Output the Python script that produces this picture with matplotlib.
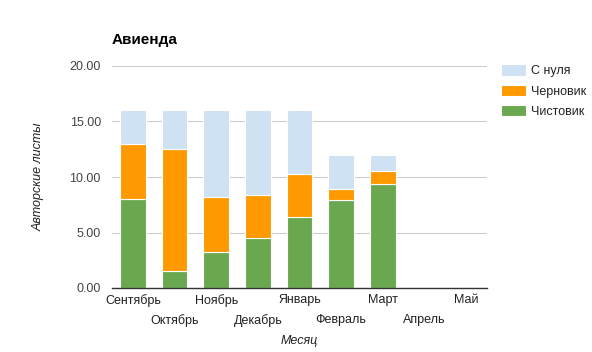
import numpy as np
import matplotlib.pyplot as plt

months = ['Сентябрь', 'Октябрь', 'Ноябрь', 'Декабрь', 'Январь',
          'Февраль', 'Март', 'Апрель', 'Май']
clean = [8.0, 1.5, 3.2, 4.5, 6.4, 7.9, 9.4, 0, 0]      # Чистовик
draft = [5.0, 11.0, 5.0, 3.9, 3.9, 1.0, 1.1, 0, 0]      # Черновик
scratch = [3.0, 3.5, 7.8, 7.6, 5.7, 3.1, 1.5, 0, 0]    # С нуля

plt.rcParams['font.family'] = ['Arial', 'Liberation Sans', 'DejaVu Sans']

fig = plt.figure(figsize=(5.92, 3.52), dpi=100)
ax = fig.add_axes([112 / 592, 1 - 288 / 352, 375 / 592, 222 / 352])

x = np.arange(len(months))
w = 0.62
clean = np.array(clean)
draft = np.array(draft)
scratch = np.array(scratch)
ax.bar(x, clean, w, color='#6aa84f', edgecolor='white', linewidth=0.8, label='Чистовик', zorder=2)
ax.bar(x, draft, w, bottom=clean, color='#ff9900', edgecolor='white', linewidth=0.8, label='Черновик', zorder=2)
ax.bar(x, scratch, w, bottom=clean + draft, color='#cfe2f3', edgecolor='white', linewidth=0.8, label='С нуля', zorder=2)

ax.set_xlim(-0.5, len(months) - 0.5)
ax.set_ylim(0, 20)
ax.set_yticks([0, 5, 10, 15, 20])
ax.set_yticklabels(['%.2f' % v for v in [0, 5, 10, 15, 20]], fontsize=9, color='#444444')
ax.grid(axis='y', color='#cccccc', linewidth=0.8, zorder=0)
ax.tick_params(axis='both', length=0, pad=8)
for s in ['top', 'right', 'left']:
    ax.spines[s].set_visible(False)
ax.spines['bottom'].set_color('#333333')
ax.spines['bottom'].set_linewidth(1.0)
ax.spines['bottom'].set_zorder(3)

ax.set_xticks(x)
ax.set_xticklabels([])
for i, m in enumerate(months):
    yoff = -0.055 if i % 2 == 0 else -0.145
    ax.text(i, yoff, m, transform=ax.get_xaxis_transform(), ha='center', va='center',
            fontsize=9, color='#222222')

ax.set_xlabel('Месяц', fontsize=9, style='italic', color='#222222', labelpad=26)
ax.set_ylabel('Авторские листы', fontsize=9, style='italic', color='#222222', labelpad=18)
fig.text(112 / 592, 1 - 40 / 352, 'Авиенда', fontsize=11, fontweight='bold', va='center', ha='left')

handles, labels = ax.get_legend_handles_labels()
ax.legend(handles[::-1], labels[::-1], loc='upper left', bbox_to_anchor=(1.025, 1.03),
          frameon=False, fontsize=9, handlelength=2.0, handleheight=1.0,
          handletextpad=0.4, labelspacing=0.6,
          labelcolor='#222222', borderaxespad=0)

fig.savefig('out.png', dpi=100)
